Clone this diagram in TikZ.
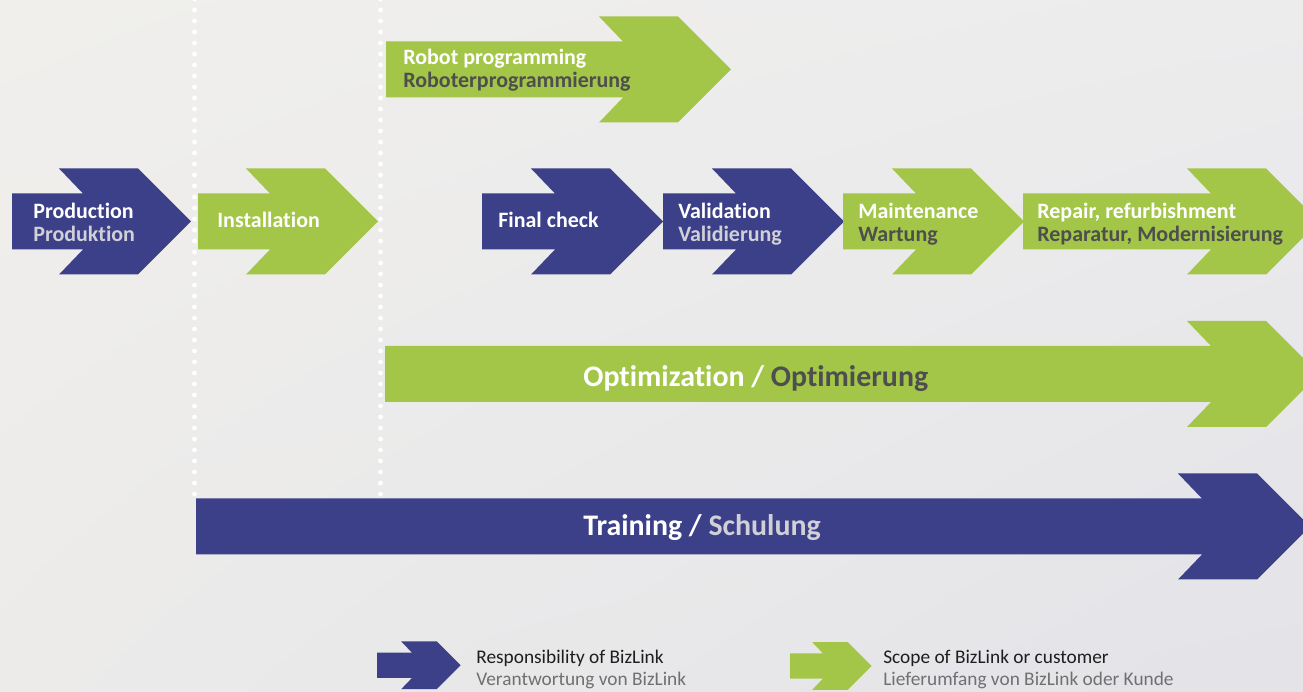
\documentclass[tikz,border=0pt]{standalone}
\usepackage{fontspec}
\setmainfont{Carlito}[Ligatures=NoCommon]
\usepackage{tikz}
\usetikzlibrary{positioning,calc,shadings}
\usepackage{xcolor}

\definecolor{bizblue}{RGB}{59,64,136}
\definecolor{bizgreen}{RGB}{163,198,72}
\definecolor{subblue}{RGB}{208,208,214}
\definecolor{subgreen}{RGB}{78,78,78}
\definecolor{legdark}{RGB}{30,30,30}
\definecolor{leggray}{RGB}{112,112,112}
\definecolor{bgA}{RGB}{240,239,236}
\definecolor{bgB}{RGB}{236,236,237}
\definecolor{bgC}{RGB}{236,235,234}
\definecolor{bgD}{RGB}{227,227,232}

\tikzset{
  entext/.style={font=\fontsize{12.5}{15}\selectfont\bfseries, text=white, inner sep=0pt, anchor=base west},
  detextb/.style={entext, text=subblue},
  detextg/.style={entext, text=subgreen},
  bigtext/.style={font=\fontsize{17}{20}\selectfont\bfseries, text=white, inner sep=0pt, anchor=base west},
  legtext/.style={font=\fontsize{11}{13}\selectfont, text=legdark, inner sep=0pt, anchor=base west},
  legsub/.style={legtext, text=leggray},
  dotmark/.style={fill=white}
}

% arrow: [scale]{left}{notch}{centre y}{colour}
\newcommand{\bizarrow}[5][1]{%
  \begin{scope}[shift={(#3,#4)},scale=#1]
    \fill[#5] ({(#2-#3)/#1},-28) -- (0,-28) -- (-24,-53) -- (55,-53) -- (108,0)
      -- (55,53) -- (-24,53) -- (0,28) -- ({(#2-#3)/#1},28) -- cycle;
  \end{scope}}

\begin{document}
\begin{tikzpicture}[x=0.02cm,y=-0.02cm]
    \useasboundingbox (0,0) rectangle (1303,692);
    \clip (0,0) rectangle (1303,692);
    \shade[upper left=bgA, upper right=bgB, lower left=bgC, lower right=bgD] (0,0) rectangle (1303,692);

    % dotted separators
    \foreach \x in {194.5,380.5} {
        \foreach \k in {0,...,45} {
            \fill[dotmark] (\x,494-11*\k) circle (2.4);
        }
    }

    % process arrows
    \bizarrow{12}{83}{221.5}{bizblue}
    \bizarrow{198}{270}{221.5}{bizgreen}
    \bizarrow{386}{623}{69.5}{bizgreen}
    \bizarrow{482}{555}{221.5}{bizblue}
    \bizarrow{663}{736}{221.5}{bizblue}
    \bizarrow{843}{916}{221.5}{bizgreen}
    \bizarrow{1023}{1211}{221.5}{bizgreen}
    \bizarrow{385}{1211}{374}{bizgreen}
    \bizarrow{196}{1202}{526.5}{bizblue}

    \node[entext] (prod) at (33,218.3) {Production};
    \node[detextb] (prodde) at ($(prod.base west)+(0,23.5)$) {Produktion};
    \node[entext] (inst) at (217,227.7) {Installation};
    \node[entext] (robot) at (403,65) {Robot programming};
    \node[detextg] (robotde) at ($(robot.base west)+(0,23)$) {Roboterprogrammierung};
    \node[entext] (check) at (498,227.7) {Final check};
    \node[entext] (valid) at (678,218.3) {Validation};
    \node[detextb] (validde) at ($(valid.base west)+(0,23.5)$) {Validierung};
    \node[entext] (maint) at (858,218.3) {Maintenance};
    \node[detextg] (maintde) at ($(maint.base west)+(0,23.5)$) {Wartung};
    \node[entext] (repair) at (1037,218.3) {Repair, refurbishment};
    \node[detextg] (repairde) at ($(repair.base west)+(0,23.5)$) {Reparatur, Modernisierung};

    \node[bigtext] (optim) at (583,386.5) {Optimization / \textcolor{subgreen}{Optimierung}};
    \node[bigtext] (train) at (583,535.7) {Training / \textcolor{subblue}{Schulung}};

    % legend
    \bizarrow[0.45]{377}{412}{665.3}{bizblue}
    \bizarrow[0.45]{790}{823}{666}{bizgreen}
    \node[legtext] (legblue) at (476,663.7) {Responsibility of BizLink};
    \node[legsub] (legbluede) at ($(legblue.base west)+(0,21.6)$) {Verantwortung von BizLink};
    \node[legtext] (leggreen) at (883,663.7) {Scope of BizLink or customer};
    \node[legsub] (leggreende) at ($(leggreen.base west)+(0,21.6)$) {Lieferumfang von BizLink oder Kunde};
\end{tikzpicture}
\end{document}
